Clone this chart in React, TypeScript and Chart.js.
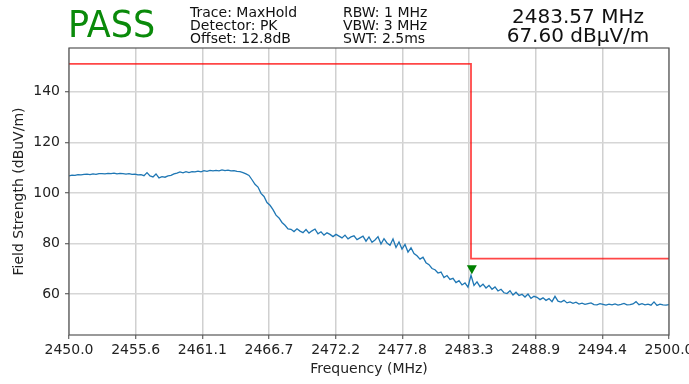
import React, { useEffect, useRef } from 'react';
import { Chart, registerables } from 'chart.js';

Chart.register(...registerables);

// Sweep: 2450 MHz start, 0.25 MHz per point
const FREQ_START = 2450;
const FREQ_STEP = 0.25;

// Max-hold trace levels (dBuV/m), one row per MHz (4 points each), last = 2500.0
const levels = [
  106.7, 107.0, 106.9, 107.2, // 2450
  107.1, 107.3, 107.4, 107.2, // 2451
  107.5, 107.3, 107.6, 107.6, // 2452
  107.5, 107.7, 107.6, 107.8, // 2453
  107.5, 107.7, 107.6, 107.4, // 2454
  107.6, 107.3, 107.4, 107.1, // 2455
  107.2, 106.8, 108.0, 106.7, // 2456
  106.3, 107.5, 105.9, 106.4, // 2457
  106.2, 106.7, 106.9, 107.5, // 2458
  107.8, 108.3, 107.9, 108.4, // 2459
  108.0, 108.4, 108.3, 108.6, // 2460
  108.3, 108.8, 108.5, 108.9, // 2461
  108.7, 108.9, 108.7, 109.1, // 2462
  108.8, 109.0, 108.7, 108.8, // 2463
  108.5, 108.4, 108.0, 107.5, // 2464
  106.9, 105.2, 103.4, 102.3, // 2465
  99.8, 98.6, 96.2, 95.1, // 2466
  93.4, 91.2, 90.1, 88.3, // 2467
  87.2, 85.8, 85.6, 84.7, // 2468
  85.8, 84.9, 84.3, 85.5, // 2469
  84.1, 85.0, 85.7, 83.8, // 2470
  84.6, 83.3, 84.2, 83.6, // 2471
  82.7, 83.6, 82.9, 82.2, // 2472
  83.3, 81.8, 82.6, 83.0, // 2473
  81.5, 82.2, 82.9, 80.9, // 2474
  82.6, 80.5, 81.4, 82.7, // 2475
  79.8, 81.9, 80.2, 79.3, // 2476
  81.8, 78.4, 80.6, 77.8, // 2477
  79.6, 76.6, 78.3, 76.0, // 2478
  75.1, 73.8, 74.6, 72.4, // 2479
  71.6, 70.1, 69.6, 68.3, // 2480
  68.7, 66.5, 67.3, 65.8, // 2481
  66.2, 64.5, 65.3, 63.6, // 2482
  64.4, 62.7, 67.4, 63.4, // 2483
  64.8, 62.9, 63.9, 62.4, // 2484
  63.4, 61.9, 62.8, 61.2, // 2485
  61.9, 60.5, 60.2, 61.3, // 2486
  59.6, 60.7, 59.4, 59.9, // 2487
  58.8, 60.0, 58.3, 59.1, // 2488
  58.7, 57.8, 58.5, 57.5, // 2489
  58.2, 57.0, 59.1, 57.2, // 2490
  56.8, 57.5, 56.5, 56.9, // 2491
  56.3, 56.8, 56.0, 56.4, // 2492
  55.9, 56.2, 56.5, 55.8, // 2493
  55.7, 56.2, 55.9, 55.6, // 2494
  56.0, 55.7, 56.1, 55.6, // 2495
  55.9, 56.3, 55.7, 55.8, // 2496
  56.1, 57.0, 55.8, 56.2, // 2497
  55.7, 56.0, 55.6, 56.9, // 2498
  55.5, 56.0, 55.7, 55.6, // 2499
  55.8, // 2500
];

// Limit line
const limitFreqs = [2450, 2483.5, 2483.5, 2500];
const limitLevels = [151, 151, 74, 74];

// Axis ticks
const xTickValues = [2450, 2455.556, 2461.111, 2466.667, 2472.222, 2477.778, 2483.333, 2488.889, 2494.444, 2500];
const xTickLabels = ['2450.0', '2455.6', '2461.1', '2466.7', '2472.2', '2477.8', '2483.3', '2488.9', '2494.4', '2500.0'];
const yTickValues = [60, 80, 100, 120, 140];
const yTickLabels = ['60', '80', '100', '120', '140'];

// Marker
const markerFreq = 2483.57;
const markerLevel = 67.6;

// Header texts
const verdict = 'PASS';
const headerLeft = ['Trace: MaxHold', 'Detector: PK', 'Offset: 12.8dB'];
const headerMid = ['RBW: 1 MHz', 'VBW: 3 MHz', 'SWT: 2.5ms'];
const markerText = ['2483.57 MHz', '67.60 dBµV/m'];

const FONT = "'DejaVu Sans', sans-serif";

const framePlugin = {
  id: 'frameAndMarker',
  afterDatasetsDraw(chart: any) {
    const { ctx, chartArea, scales } = chart;
    const { left, top, right, bottom } = chartArea;
    ctx.save();
    // marker triangle (pointing down)
    const mx = scales.x.getPixelForValue(markerFreq);
    const my = scales.y.getPixelForValue(markerLevel) - 5;
    ctx.fillStyle = '#008000';
    ctx.beginPath();
    ctx.moveTo(mx - 5, my - 4.5);
    ctx.lineTo(mx + 5, my - 4.5);
    ctx.lineTo(mx, my + 4.5);
    ctx.closePath();
    ctx.fill();
    // frame
    ctx.strokeStyle = '#555';
    ctx.lineWidth = 1.2;
    ctx.strokeRect(left, top, right - left, bottom - top);
    ctx.restore();
  },
};

export default function App() {
  const canvasRef = useRef<HTMLCanvasElement | null>(null);

  useEffect(() => {
    const canvas = canvasRef.current;
    if (!canvas) return;
    const trace = levels.map((v, i) => ({ x: FREQ_START + i * FREQ_STEP, y: v }));
    const limit = limitFreqs.map((f, i) => ({ x: f, y: limitLevels[i] }));

    const chart = new Chart(canvas, {
      type: 'line',
      data: {
        datasets: [
          {
            data: trace,
            borderColor: '#1f77b4',
            borderWidth: 1.3,
            pointRadius: 0,
            tension: 0,
          },
          {
            data: limit,
            borderColor: 'rgba(255,0,0,0.72)',
            borderWidth: 1.8,
            pointRadius: 0,
            tension: 0,
          },
        ],
      },
      options: {
        animation: false,
        responsive: false,
        devicePixelRatio: 1,
        layout: { padding: { left: 0, right: 20, top: 48, bottom: 0 } },
        plugins: { legend: { display: false }, tooltip: { enabled: false } },
        scales: {
          x: {
            type: 'linear',
            min: 2450,
            max: 2500,
            afterBuildTicks: (s: any) => {
              s.ticks = xTickValues.map((v) => ({ value: v }));
            },
            afterFit: (s: any) => {
              s.height = 49;
              s.paddingLeft = 0;
              s.paddingRight = 0;
            },
            ticks: {
              callback: (_v: any, i: number) => xTickLabels[i],
              autoSkip: false,
              maxRotation: 0,
              minRotation: 0,
              color: '#222',
              padding: 3,
              font: { family: FONT, size: 14 },
            },
            grid: {
              color: '#d0d0d0',
              lineWidth: 1.5,
              tickColor: '#444',
              tickLength: 4,
              tickWidth: 1,
            },
            border: { display: false },
            title: {
              display: true,
              text: 'Frequency (MHz)',
              color: '#222',
              font: { family: FONT, size: 14 },
              padding: { top: 0, bottom: 6.6 },
            },
          },
          y: {
            type: 'linear',
            min: 43.8,
            max: 157.3,
            afterBuildTicks: (s: any) => {
              s.ticks = yTickValues.map((v) => ({ value: v }));
            },
            afterFit: (s: any) => {
              s.width = 69;
            },
            ticks: {
              callback: (_v: any, i: number) => yTickLabels[i],
              autoSkip: false,
              color: '#222',
              padding: 5,
              font: { family: FONT, size: 14 },
            },
            grid: {
              color: '#d6d6d6',
              lineWidth: 1.5,
              tickColor: '#444',
              tickLength: 4,
              tickWidth: 1,
            },
            border: { display: false },
            title: {
              display: true,
              text: 'Field Strength (dBuV/m)',
              color: '#222',
              font: { family: FONT, size: 14 },
              padding: { top: 10.6, bottom: 0 },
            },
          },
        },
      },
      plugins: [framePlugin],
    } as any);

    return () => chart.destroy();
  }, []);

  const textBase: React.CSSProperties = {
    position: 'absolute',
    fontFamily: FONT,
    whiteSpace: 'pre',
    color: '#111',
  };

  return (
    <div
      style={{
        position: 'fixed',
        left: 0,
        top: 0,
        width: 689,
        height: 384,
        overflow: 'hidden',
        background: '#fff',
      }}
    >
      <canvas ref={canvasRef} width={689} height={384} style={{ display: 'block' }} />
      <div
        style={{
          ...textBase,
          left: 68,
          top: 5.3,
          fontSize: 38,
          lineHeight: '38px',
          color: '#0a8a0a',
          transform: 'scaleX(0.92)',
          transformOrigin: 'left top',
        }}
      >
        {verdict}
      </div>
      <div style={{ ...textBase, left: 190, top: 5.7, fontSize: 14, lineHeight: '13px' }}>
        {headerLeft.join('\n')}
      </div>
      <div style={{ ...textBase, left: 343, top: 5.7, fontSize: 14, lineHeight: '13px' }}>
        {headerMid.join('\n')}
      </div>
      <div
        style={{
          ...textBase,
          left: 578,
          top: 7,
          fontSize: 20,
          lineHeight: '19px',
          textAlign: 'center',
          transform: 'translateX(-50%)',
        }}
      >
        {markerText.join('\n')}
      </div>
    </div>
  );
}
